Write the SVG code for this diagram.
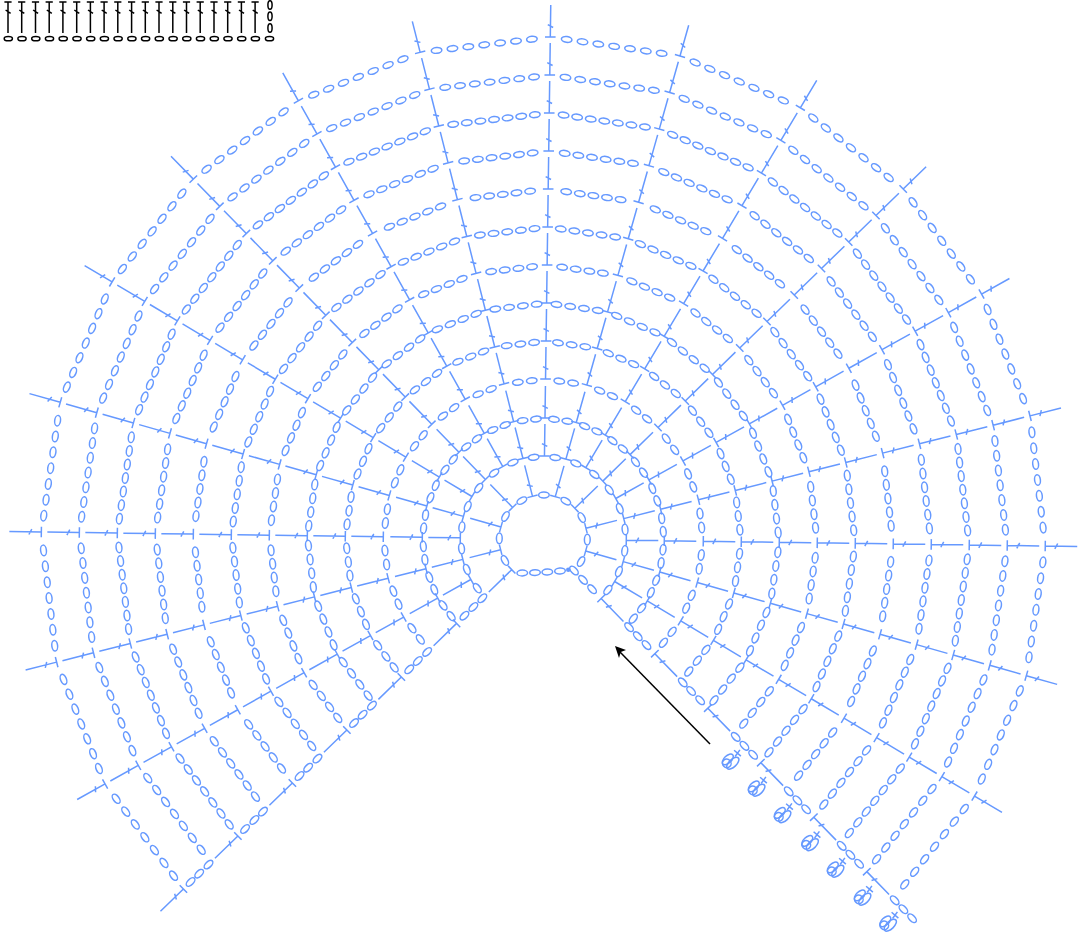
<svg xmlns="http://www.w3.org/2000/svg" width="1082" height="932" viewBox="0 0 1082 932">
<style>
.b{fill:none;stroke:#6699ff;stroke-width:1.5}
.k{fill:none;stroke:#000;stroke-width:1.5}
</style>
<defs>
<ellipse id="c" rx="5.3" ry="2.9"/>
<ellipse id="v" rx="2.9" ry="5.3"/>
<path id="t" d="M0 0V-32M-5.3 0H5.3M-2.7 -12.4L2.7 -9.6"/>
<g id="gap" transform="rotate(7.5)">
<use href="#c" y="-82.3"/>
<g transform="translate(0 -120)"><use href="#c" x="-6.75"/><use href="#c" x="6.75"/></g>
<g transform="translate(0 -158.6)"><use href="#c" x="-7"/><use href="#c" x="7"/></g>
<g transform="translate(0 -196.3)"><use href="#c" x="-13.8"/><use href="#c"/><use href="#c" x="13.8"/></g>
<g transform="translate(0 -234)"><use href="#c" x="-20.85"/><use href="#c" x="-6.95"/><use href="#c" x="6.95"/><use href="#c" x="20.85"/></g>
<g transform="translate(0 -271.7)"><use href="#c" x="-20.6"/><use href="#c" x="-6.9"/><use href="#c" x="6.9"/><use href="#c" x="20.6"/></g>
<g transform="translate(0 -309.3)"><use href="#c" x="-27.5"/><use href="#c" x="-13.75"/><use href="#c"/><use href="#c" x="13.75"/><use href="#c" x="27.5"/></g>
<g transform="translate(0 -347)"><use href="#c" x="-27.5"/><use href="#c" x="-13.75"/><use href="#c"/><use href="#c" x="13.75"/><use href="#c" x="27.5"/></g>
<g transform="translate(0 -384.7)"><use href="#c" x="-34.5"/><use href="#c" x="-20.7"/><use href="#c" x="-6.9"/><use href="#c" x="6.9"/><use href="#c" x="20.7"/><use href="#c" x="34.5"/></g>
<g transform="translate(0 -422.4)"><use href="#c" x="-41.1"/><use href="#c" x="-27.4"/><use href="#c" x="-13.7"/><use href="#c"/><use href="#c" x="13.7"/><use href="#c" x="27.4"/><use href="#c" x="41.1"/></g>
<g transform="translate(0 -460)"><use href="#c" x="-44.7"/><use href="#c" x="-29.8"/><use href="#c" x="-14.9"/><use href="#c"/><use href="#c" x="14.9"/><use href="#c" x="29.8"/><use href="#c" x="44.7"/></g>
<g transform="translate(-1 -497.7)"><use href="#c" x="-48"/><use href="#c" x="-32"/><use href="#c" x="-16"/><use href="#c"/><use href="#c" x="16"/><use href="#c" x="32"/><use href="#c" x="48"/></g>
</g>
<g id="sO"><use href="#t" y="-83"/><use href="#t" y="-160"/><use href="#t" y="-236"/><use href="#t" y="-312"/><use href="#t" y="-388"/><use href="#t" y="-464"/></g>
<g id="sE"><use href="#t" y="-121"/><use href="#t" y="-198"/><use href="#t" y="-274"/><use href="#t" y="-350"/><use href="#t" y="-426"/><use href="#t" y="-502"/></g>
<g id="col"><use href="#sO"/><use href="#sE"/></g>
<g id="cl">
<g transform="rotate(46)"><ellipse cx="-3.4" cy="0.5" rx="3.6" ry="6.8"/><ellipse cx="2.8" cy="-0.5" rx="3.8" ry="7.6"/><ellipse cx="-1.2" cy="4" rx="4.4" ry="4.2"/></g>
<path d="M3.6 -11.2L10.4 -5.4M4.6 -5L9.4 -11.6"/>
</g>
<path id="lt" d="M0 2V33M-3.6 2H3.6M-2.4 10L2.6 13.4"/>
<ellipse id="lc" rx="4.1" ry="2.1"/>
<ellipse id="lv" rx="2.1" ry="4.3"/>
</defs>
<rect width="1082" height="932" fill="#fff"/>
<g id="legend" class="k">
<use href="#lt" x="8"/><use href="#lt" x="21.7"/><use href="#lt" x="35.5"/><use href="#lt" x="49.2"/><use href="#lt" x="62.9"/><use href="#lt" x="76.7"/><use href="#lt" x="90.4"/><use href="#lt" x="104.1"/><use href="#lt" x="117.8"/><use href="#lt" x="131.6"/><use href="#lt" x="145.3"/><use href="#lt" x="159"/><use href="#lt" x="172.8"/><use href="#lt" x="186.5"/><use href="#lt" x="200.2"/><use href="#lt" x="214"/><use href="#lt" x="227.7"/><use href="#lt" x="241.4"/><use href="#lt" x="255.1"/>
<g transform="translate(0 38.7)"><use href="#lc" x="8.3"/><use href="#lc" x="22"/><use href="#lc" x="35.8"/><use href="#lc" x="49.5"/><use href="#lc" x="63.2"/><use href="#lc" x="77"/><use href="#lc" x="90.7"/><use href="#lc" x="104.4"/><use href="#lc" x="118.1"/><use href="#lc" x="131.9"/><use href="#lc" x="145.6"/><use href="#lc" x="159.3"/><use href="#lc" x="173.1"/><use href="#lc" x="186.8"/><use href="#lc" x="200.5"/><use href="#lc" x="214.3"/><use href="#lc" x="228"/><use href="#lc" x="241.7"/><use href="#lc" x="255.4"/><use href="#lc" x="269.5"/></g>
<use href="#lv" x="270" y="5"/><use href="#lv" x="270" y="16.3"/><use href="#lv" x="270" y="28"/>
</g>
<g id="chart" class="b" transform="translate(543.3 539) rotate(.8)">
<g id="rows">
<g transform="rotate(-135)"><use href="#gap"/></g><g transform="rotate(-120)"><use href="#gap"/></g><g transform="rotate(-105)"><use href="#gap"/></g><g transform="rotate(-90)"><use href="#gap"/></g><g transform="rotate(-75)"><use href="#gap"/></g><g transform="rotate(-60)"><use href="#gap"/></g><g transform="rotate(-45)"><use href="#gap"/></g><g transform="rotate(-30)"><use href="#gap"/></g><g transform="rotate(-15)"><use href="#gap"/></g><use href="#gap"/><g transform="rotate(15)"><use href="#gap"/></g><g transform="rotate(30)"><use href="#gap"/></g><g transform="rotate(45)"><use href="#gap"/></g><g transform="rotate(60)"><use href="#gap"/></g><g transform="rotate(75)"><use href="#gap"/></g><g transform="rotate(90)"><use href="#gap"/></g><g transform="rotate(105)"><use href="#gap"/></g><g transform="rotate(120)"><use href="#gap"/></g>
</g>
<g id="spokes">
<use href="#col" transform="rotate(-120)"/><use href="#col" transform="rotate(-105)"/><use href="#col" transform="rotate(-90)"/><use href="#col" transform="rotate(-75)"/><use href="#col" transform="rotate(-60)"/><use href="#col" transform="rotate(-45)"/><use href="#col" transform="rotate(-30)"/><use href="#col" transform="rotate(-15)"/><use href="#col"/><use href="#col" transform="rotate(15)"/><use href="#col" transform="rotate(30)"/><use href="#col" transform="rotate(45)"/><use href="#col" transform="rotate(60)"/><use href="#col" transform="rotate(75)"/><use href="#col" transform="rotate(90)"/><use href="#col" transform="rotate(105)"/><use href="#col" transform="rotate(120)"/>
</g>
<g id="end-left" transform="rotate(-135)">
<use href="#sE"/><use href="#t" y="-44"/>
<use href="#v" y="-85"/><use href="#v" y="-97.5"/><use href="#v" y="-110"/>
<use href="#v" y="-162"/><use href="#v" y="-175"/><use href="#v" y="-187"/>
<use href="#v" y="-239"/><use href="#v" y="-252"/><use href="#v" y="-264"/>
<use href="#v" y="-315"/><use href="#v" y="-328"/><use href="#v" y="-340"/>
<use href="#v" y="-391"/><use href="#v" y="-403"/><use href="#v" y="-416"/>
<use href="#v" y="-467"/><use href="#v" y="-480"/><use href="#v" y="-492"/>
</g>
<g id="end-right" transform="rotate(135)">
<use href="#sO"/>
<use href="#v" y="-44"/><use href="#v" y="-57"/><use href="#v" y="-70"/>
<use href="#v" y="-123"/><use href="#v" y="-135.5"/><use href="#v" y="-148"/>
<use href="#v" y="-200"/><use href="#v" y="-212"/><use href="#v" y="-225"/>
<use href="#v" y="-276"/><use href="#v" y="-288.5"/><use href="#v" y="-301"/>
<use href="#v" y="-352"/><use href="#v" y="-364.5"/><use href="#v" y="-377"/>
<use href="#v" y="-428"/><use href="#v" y="-440.5"/><use href="#v" y="-453"/>
<use href="#v" y="-504"/><use href="#v" y="-516.5"/><use href="#v" y="-529"/>
</g>
<g id="centre">
<use href="#t" y="-44" transform="rotate(-105)"/><use href="#t" y="-44" transform="rotate(-75)"/><use href="#t" y="-44" transform="rotate(-45)"/><use href="#t" y="-44" transform="rotate(-15)"/><use href="#t" y="-44" transform="rotate(15)"/><use href="#t" y="-44" transform="rotate(45)"/><use href="#t" y="-44" transform="rotate(75)"/><use href="#t" y="-44" transform="rotate(105)"/>
<use href="#c" y="-44" transform="rotate(-120)"/><use href="#c" y="-44" transform="rotate(-90)"/><use href="#c" y="-44" transform="rotate(-60)"/><use href="#c" y="-44" transform="rotate(-30)"/><use href="#c" y="-44"/><use href="#c" y="-44" transform="rotate(30)"/><use href="#c" y="-44" transform="rotate(60)"/><use href="#c" y="-44" transform="rotate(90)"/><use href="#c" y="-44" transform="rotate(120)"/>
</g>
</g>
<g id="start" class="b">
<use href="#c" transform="translate(522.3 573) rotate(-2)"/><use href="#c" transform="translate(535 572.6) rotate(-3)"/><use href="#c" transform="translate(547.3 572) rotate(-3)"/><use href="#c" transform="translate(560 571) rotate(-4)"/>
<circle cx="568.3" cy="569.8" r="2.3" fill="#6699ff" stroke="none"/>
</g>
<g id="clusters" class="b">
<use href="#cl" x="730.5" y="761.5"/><use href="#cl" x="756.5" y="788.5"/><use href="#cl" x="782.5" y="815"/><use href="#cl" x="810" y="843"/><use href="#cl" x="835.5" y="869.5"/><use href="#cl" x="862.5" y="897.5"/><use href="#cl" x="888" y="923.5"/>
</g>
<g id="connectors">
<path d="M710 744L620 652" fill="none" stroke="#000" stroke-width="1.5"/>
<path d="M615 646L626 650L620.8 652L619 658Z" fill="#000"/>
</g>
</svg>
